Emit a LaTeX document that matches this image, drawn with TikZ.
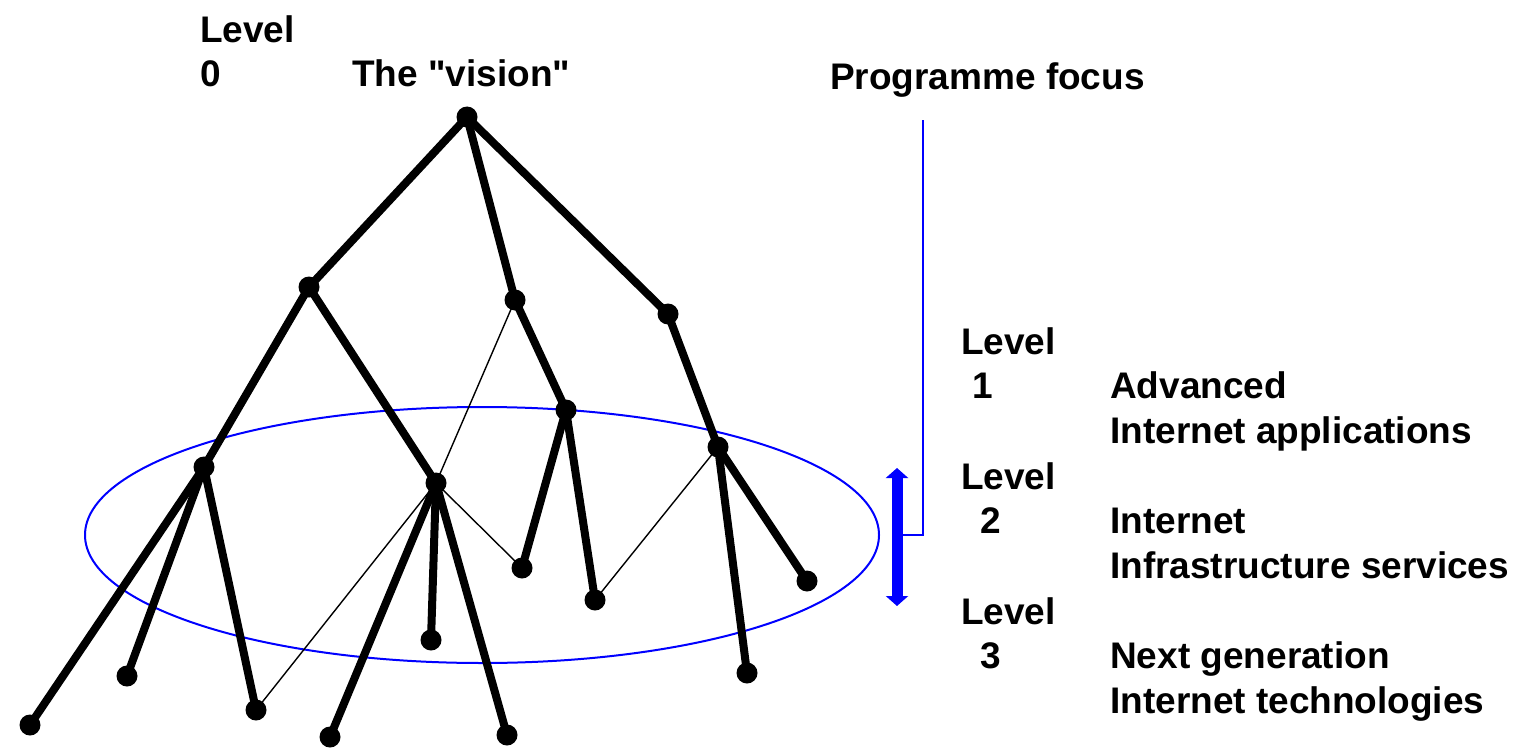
\documentclass[tikz,border=0pt]{standalone}
\usepackage{fontspec}
\setmainfont{Liberation Sans}[Ligatures=TeXOff]
\usetikzlibrary{arrows.meta,backgrounds}
\definecolor{pblue}{RGB}{0,0,255}
\tikzset{
  dot/.style={circle,fill=black,inner sep=0pt,minimum size=21pt},
  thick edge/.style={line width=8pt,black},
  thin edge/.style={line width=1.4pt,black},
  lbl/.style={anchor=base west,inner sep=0pt,font=\fontsize{37}{45}\selectfont\bfseries},
}
\begin{document}
\begin{tikzpicture}[x=1pt,y=-1pt]
\useasboundingbox (0,0) rectangle (1517,749);
% nodes
\node[dot] (R) at (467,117) {};
\node[dot] (A) at (309,287) {};
\node[dot] (B) at (515,300) {};
\node[dot] (C) at (668,314) {};
\node[dot] (A1) at (204,467) {};
\node[dot] (A2) at (436,483) {};
\node[dot] (B1) at (566,410) {};
\node[dot] (C1) at (718,447) {};
\node[dot] (a1) at (30,725) {};
\node[dot] (a2) at (127,676) {};
\node[dot] (a3) at (256,710) {};
\node[dot] (b1) at (330,737) {};
\node[dot] (b2) at (431,640) {};
\node[dot] (b3) at (507,735) {};
\node[dot] (c1) at (522,568) {};
\node[dot] (c2) at (595,600) {};
\node[dot] (d1) at (807,581) {};
\node[dot] (d2) at (747,673) {};
\begin{pgfonlayer}{background}
% ellipse
\draw[pblue,line width=2pt] (482,535) ellipse [x radius=397, y radius=128];
% thick edges
\draw[thick edge] (R.center) -- (A.center);
\draw[thick edge] (R.center) -- (B.center);
\draw[thick edge] (R.center) -- (C.center);
\draw[thick edge] (A.center) -- (A1.center);
\draw[thick edge] (A.center) -- (A2.center);
\draw[thick edge] (B.center) -- (B1.center);
\draw[thick edge] (C.center) -- (C1.center);
\draw[thick edge] (A1.center) -- (a1.center);
\draw[thick edge] (A1.center) -- (a2.center);
\draw[thick edge] (A1.center) -- (a3.center);
\draw[thick edge] (A2.center) -- (b1.center);
\draw[thick edge] (A2.center) -- (b2.center);
\draw[thick edge] (A2.center) -- (b3.center);
\draw[thick edge] (B1.center) -- (c1.center);
\draw[thick edge] (B1.center) -- (c2.center);
\draw[thick edge] (C1.center) -- (d1.center);
\draw[thick edge] (C1.center) -- (d2.center);
% thin edges
\draw[thin edge] (B.center) -- (A2.center);
\draw[thin edge] (A2.center) -- (a3.center);
\draw[thin edge] (A2.center) -- (c1.center);
\draw[thin edge] (C1.center) -- (c2.center);
\end{pgfonlayer}
% blue focus arrow
\coordinate (fTop) at (897,468);
\coordinate (fBot) at (897,606);
\coordinate (fMid) at (897,535);
\coordinate (fEnd) at (923,120);
\draw[pblue,line width=11pt,{Triangle[width=22pt,length=10pt]}-{Triangle[width=22pt,length=10pt]}] (fTop) -- (fBot);
\draw[pblue,line width=2pt] (fMid) -| (fEnd);
% labels
\node[lbl] (l0a) at (200,43) {Level};
\node[lbl] (l0b) at (200,87) {0};
\node[lbl] (vis) at (352,87) {The "vision"};
\node[lbl] (pf) at (830,90) {Programme focus};
\node[lbl] (l1a) at (961,354) {Level};
\node[lbl] (l1b) at (972,398) {1};
\node[lbl] (t1a) at (1110,398) {Advanced};
\node[lbl] (t1b) at (1110,443) {Internet applications};
\node[lbl] (l2a) at (961,489) {Level};
\node[lbl] (l2b) at (980,533) {2};
\node[lbl] (t2a) at (1110,533) {Internet};
\node[lbl] (t2b) at (1110,578) {Infrastructure services};
\node[lbl] (l3a) at (961,624) {Level};
\node[lbl] (l3b) at (980,668) {3};
\node[lbl] (t3a) at (1110,668) {Next generation};
\node[lbl] (t3b) at (1110,713) {Internet technologies};
\end{tikzpicture}
\end{document}
